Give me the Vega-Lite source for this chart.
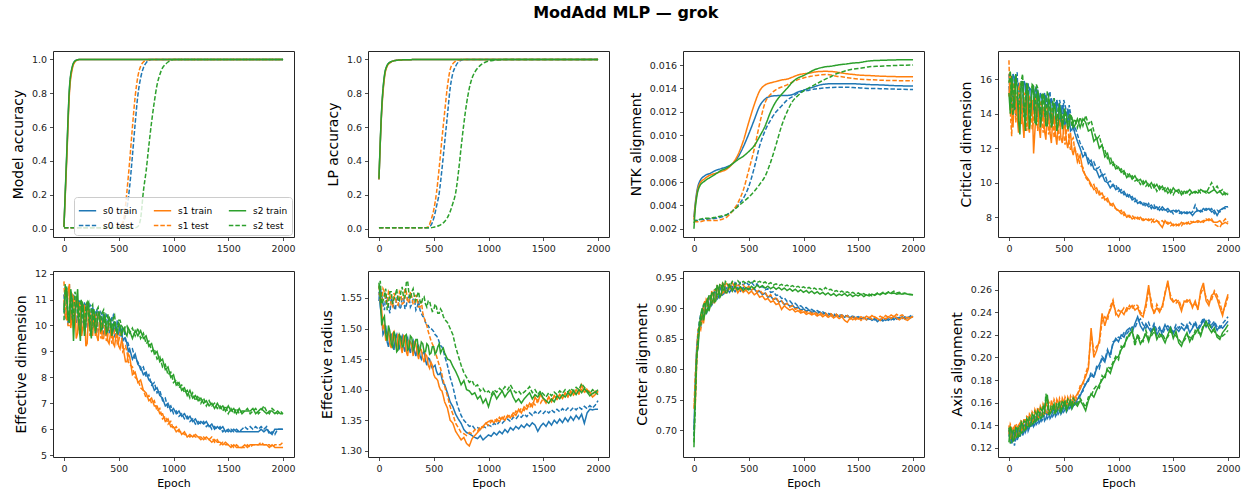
{
"$schema": "https://vega.github.io/schema/vega-lite/v6.json",
"background": "white",
"padding": {"left": 10, "top": 4, "right": 3, "bottom": 5},
"title": {"text": "ModAdd MLP — grok", "font": "DejaVu Sans", "fontSize": 16, "fontWeight": "bold", "color": "#000", "anchor": "middle", "offset": 30},
"config": {
  "font": "DejaVu Sans",
  "view": {"stroke": "#262626", "strokeWidth": 1},
  "axis": {"labelFont": "DejaVu Sans", "labelFontSize": 9.5, "labelColor": "#222", "titleFont": "DejaVu Sans", "titleFontWeight": "normal", "titleColor": "#000", "tickColor": "#222", "tickSize": 3.5, "tickWidth": 0.8, "labelPadding": 3, "grid": false, "domain": false, "labelFlush": false, "labelOverlap": false},
  "axisY": {"titleFontSize": 14, "titlePadding": 6},
  "axisX": {"titleFontSize": 11, "titlePadding": 4},
  "line": {"strokeWidth": 1.5, "clip": true}
},
"columns": 4,
"spacing": {"row": 34, "column": 74},
"bounds": "flush",
"resolve": {"scale": {"color": "independent", "strokeDash": "independent"}},
"datasets": {
"names": [{"k":"a","s":"s0 train"},{"k":"b","s":"s0 test"},{"k":"c","s":"s1 train"},{"k":"d","s":"s1 test"},{"k":"f","s":"s2 train"},{"k":"g","s":"s2 test"}],
"acc": [
{"e":0,"a":0.01,"b":0.005,"c":0.01,"d":0.005,"f":0.01,"g":0.005},
{"e":25,"a":0.42,"b":0.005,"c":0.4,"d":0.005,"f":0.44,"g":0.005},
{"e":50,"a":0.82,"b":0.005,"c":0.8,"d":0.005,"f":0.83,"g":0.005},
{"e":75,"a":0.95,"b":0.005,"c":0.94,"d":0.005,"f":0.955,"g":0.005},
{"e":100,"a":0.99,"b":0.005,"c":0.985,"d":0.005,"f":0.99,"g":0.005},
{"e":125,"a":0.998,"b":0.005,"c":0.997,"d":0.005,"f":0.998,"g":0.005},
{"e":150,"a":1,"b":0.005,"c":1,"d":0.005,"f":1,"g":0.005},
{"e":200,"a":1,"b":0.005,"c":1,"d":0.005,"f":1,"g":0.005},
{"e":300,"a":1,"b":0.005,"c":1,"d":0.005,"f":1,"g":0.005},
{"e":400,"a":1,"b":0.005,"c":1,"d":0.005,"f":1,"g":0.005},
{"e":450,"a":1,"b":0.005,"c":1,"d":0.005,"f":1,"g":0.005},
{"e":475,"a":1,"b":0.005,"c":1,"d":0.005,"f":1,"g":0.005},
{"e":500,"a":1,"b":0.005,"c":1,"d":0.008,"f":1,"g":0.005},
{"e":525,"a":1,"b":0.02,"c":1,"d":0.02,"f":1,"g":0.005},
{"e":550,"a":1,"b":0.05,"c":1,"d":0.07,"f":1,"g":0.005},
{"e":575,"a":1,"b":0.12,"c":1,"d":0.22,"f":1,"g":0.005},
{"e":600,"a":1,"b":0.25,"c":1,"d":0.4,"f":1,"g":0.005},
{"e":625,"a":1,"b":0.43,"c":1,"d":0.6,"f":1,"g":0.005},
{"e":650,"a":1,"b":0.62,"c":1,"d":0.78,"f":1,"g":0.005},
{"e":675,"a":1,"b":0.79,"c":1,"d":0.9,"f":1,"g":0.012},
{"e":700,"a":1,"b":0.89,"c":1,"d":0.96,"f":1,"g":0.06},
{"e":725,"a":1,"b":0.95,"c":1,"d":0.985,"f":1,"g":0.22},
{"e":750,"a":1,"b":0.98,"c":1,"d":0.995,"f":1,"g":0.34},
{"e":775,"a":1,"b":0.995,"c":1,"d":1,"f":1,"g":0.49},
{"e":800,"a":1,"b":1,"c":1,"d":1,"f":1,"g":0.63},
{"e":825,"a":1,"b":1,"c":1,"d":1,"f":1,"g":0.75},
{"e":850,"a":1,"b":1,"c":1,"d":1,"f":1,"g":0.85},
{"e":875,"a":1,"b":1,"c":1,"d":1,"f":1,"g":0.91},
{"e":900,"a":1,"b":1,"c":1,"d":1,"f":1,"g":0.95},
{"e":925,"a":1,"b":1,"c":1,"d":1,"f":1,"g":0.97},
{"e":950,"a":1,"b":1,"c":1,"d":1,"f":1,"g":0.985},
{"e":975,"a":1,"b":1,"c":1,"d":1,"f":1,"g":0.995},
{"e":1000,"a":1,"b":1,"c":1,"d":1,"f":1,"g":1},
{"e":1100,"a":1,"b":1,"c":1,"d":1,"f":1,"g":1},
{"e":1500,"a":1,"b":1,"c":1,"d":1,"f":1,"g":1},
{"e":2000,"a":1,"b":1,"c":1,"d":1,"f":1,"g":1}
],
"lp": [
{"e":0,"a":0.29,"b":0.005,"c":0.29,"d":0.005,"f":0.295,"g":0.005},
{"e":25,"a":0.7,"b":0.005,"c":0.69,"d":0.005,"f":0.71,"g":0.005},
{"e":50,"a":0.9,"b":0.005,"c":0.89,"d":0.005,"f":0.905,"g":0.005},
{"e":75,"a":0.965,"b":0.005,"c":0.96,"d":0.005,"f":0.965,"g":0.005},
{"e":100,"a":0.983,"b":0.005,"c":0.98,"d":0.005,"f":0.983,"g":0.005},
{"e":125,"a":0.99,"b":0.005,"c":0.99,"d":0.005,"f":0.99,"g":0.005},
{"e":150,"a":0.994,"b":0.005,"c":0.994,"d":0.005,"f":0.994,"g":0.005},
{"e":200,"a":0.997,"b":0.005,"c":0.997,"d":0.005,"f":0.997,"g":0.005},
{"e":300,"a":0.999,"b":0.005,"c":0.999,"d":0.005,"f":0.999,"g":0.005},
{"e":400,"a":1,"b":0.005,"c":1,"d":0.005,"f":1,"g":0.005},
{"e":425,"a":1,"b":0.005,"c":1,"d":0.005,"f":1,"g":0.005},
{"e":450,"a":1,"b":0.005,"c":1,"d":0.01,"f":1,"g":0.005},
{"e":475,"a":1,"b":0.02,"c":1,"d":0.05,"f":1,"g":0.005},
{"e":500,"a":1,"b":0.06,"c":1,"d":0.11,"f":1,"g":0.008},
{"e":525,"a":1,"b":0.13,"c":1,"d":0.21,"f":1,"g":0.012},
{"e":550,"a":1,"b":0.21,"c":1,"d":0.36,"f":1,"g":0.018},
{"e":575,"a":1,"b":0.35,"c":1,"d":0.53,"f":1,"g":0.028},
{"e":600,"a":1,"b":0.51,"c":1,"d":0.69,"f":1,"g":0.042},
{"e":625,"a":1,"b":0.67,"c":1,"d":0.84,"f":1,"g":0.065},
{"e":650,"a":1,"b":0.83,"c":1,"d":0.94,"f":1,"g":0.1},
{"e":675,"a":1,"b":0.92,"c":1,"d":0.975,"f":1,"g":0.15},
{"e":700,"a":1,"b":0.96,"c":1,"d":0.99,"f":1,"g":0.21},
{"e":725,"a":1,"b":0.985,"c":1,"d":0.997,"f":1,"g":0.33},
{"e":750,"a":1,"b":0.995,"c":1,"d":1,"f":1,"g":0.48},
{"e":775,"a":1,"b":1,"c":1,"d":1,"f":1,"g":0.62},
{"e":800,"a":1,"b":1,"c":1,"d":1,"f":1,"g":0.74},
{"e":825,"a":1,"b":1,"c":1,"d":1,"f":1,"g":0.83},
{"e":850,"a":1,"b":1,"c":1,"d":1,"f":1,"g":0.89},
{"e":875,"a":1,"b":1,"c":1,"d":1,"f":1,"g":0.925},
{"e":900,"a":1,"b":1,"c":1,"d":1,"f":1,"g":0.948},
{"e":925,"a":1,"b":1,"c":1,"d":1,"f":1,"g":0.965},
{"e":950,"a":1,"b":1,"c":1,"d":1,"f":1,"g":0.977},
{"e":975,"a":1,"b":1,"c":1,"d":1,"f":1,"g":0.985},
{"e":1000,"a":1,"b":1,"c":1,"d":1,"f":1,"g":0.99},
{"e":1050,"a":1,"b":1,"c":1,"d":1,"f":1,"g":0.995},
{"e":1100,"a":1,"b":1,"c":1,"d":1,"f":1,"g":0.998},
{"e":1150,"a":1,"b":1,"c":1,"d":1,"f":1,"g":1},
{"e":1500,"a":1,"b":1,"c":1,"d":1,"f":1,"g":1},
{"e":2000,"a":1,"b":1,"c":1,"d":1,"f":1,"g":1}
],
"ntk": [
{"e":0,"a":0.003,"b":0.0028,"c":0.0028,"d":0.0026,"f":0.002,"g":0.0025},
{"e":10,"a":0.004,"b":0.0027,"c":0.0038,"d":0.0026,"f":0.0035,"g":0.0027},
{"e":25,"a":0.0051,"b":0.0027,"c":0.0049,"d":0.0026,"f":0.0047,"g":0.0027},
{"e":50,"a":0.006,"b":0.0028,"c":0.0058,"d":0.0026,"f":0.0056,"g":0.0028},
{"e":100,"a":0.00655,"b":0.0028,"c":0.0063,"d":0.0027,"f":0.0061,"g":0.0029},
{"e":150,"a":0.00675,"b":0.00285,"c":0.0066,"d":0.0027,"f":0.0064,"g":0.0029},
{"e":200,"a":0.007,"b":0.0029,"c":0.00675,"d":0.0027,"f":0.0067,"g":0.003},
{"e":250,"a":0.00715,"b":0.003,"c":0.0069,"d":0.0028,"f":0.007,"g":0.0031},
{"e":300,"a":0.0073,"b":0.0032,"c":0.0071,"d":0.003,"f":0.0072,"g":0.0032},
{"e":350,"a":0.00755,"b":0.0035,"c":0.00755,"d":0.0035,"f":0.00755,"g":0.0035},
{"e":400,"a":0.0081,"b":0.004,"c":0.0083,"d":0.0042,"f":0.0079,"g":0.0039},
{"e":450,"a":0.009,"b":0.0046,"c":0.0095,"d":0.0053,"f":0.0082,"g":0.0043},
{"e":500,"a":0.0101,"b":0.0056,"c":0.0111,"d":0.007,"f":0.0086,"g":0.0047},
{"e":550,"a":0.0113,"b":0.0072,"c":0.0126,"d":0.0088,"f":0.0091,"g":0.0052},
{"e":600,"a":0.0125,"b":0.0091,"c":0.0138,"d":0.011,"f":0.0099,"g":0.0058},
{"e":650,"a":0.0131,"b":0.0104,"c":0.0143,"d":0.0128,"f":0.0108,"g":0.0065},
{"e":700,"a":0.01333,"b":0.0113,"c":0.01448,"d":0.0135,"f":0.012,"g":0.0077},
{"e":750,"a":0.01338,"b":0.012,"c":0.0146,"d":0.0139,"f":0.0129,"g":0.0092},
{"e":800,"a":0.0134,"b":0.0125,"c":0.01472,"d":0.01412,"f":0.0135,"g":0.0108},
{"e":850,"a":0.0134,"b":0.013,"c":0.0148,"d":0.0143,"f":0.014,"g":0.012},
{"e":900,"a":0.01348,"b":0.0133,"c":0.01497,"d":0.01455,"f":0.01455,"g":0.0129},
{"e":950,"a":0.0137,"b":0.0136,"c":0.01515,"d":0.01475,"f":0.0149,"g":0.0134},
{"e":1000,"a":0.01385,"b":0.01375,"c":0.01525,"d":0.0149,"f":0.0151,"g":0.0138},
{"e":1050,"a":0.014,"b":0.01385,"c":0.0153,"d":0.015,"f":0.01535,"g":0.01405},
{"e":1100,"a":0.01415,"b":0.01395,"c":0.0154,"d":0.0151,"f":0.0156,"g":0.0143},
{"e":1150,"a":0.0143,"b":0.014,"c":0.01545,"d":0.01515,"f":0.01575,"g":0.01455},
{"e":1200,"a":0.01437,"b":0.01405,"c":0.01546,"d":0.0152,"f":0.01585,"g":0.0148},
{"e":1250,"a":0.0144,"b":0.01408,"c":0.01545,"d":0.01515,"f":0.0159,"g":0.015},
{"e":1300,"a":0.0144,"b":0.0141,"c":0.0154,"d":0.01505,"f":0.01598,"g":0.01525},
{"e":1350,"a":0.0144,"b":0.0141,"c":0.01532,"d":0.015,"f":0.01605,"g":0.0154},
{"e":1400,"a":0.0144,"b":0.0141,"c":0.01525,"d":0.01492,"f":0.0161,"g":0.01555},
{"e":1450,"a":0.0144,"b":0.01408,"c":0.0152,"d":0.01485,"f":0.01617,"g":0.01565},
{"e":1500,"a":0.01438,"b":0.01405,"c":0.01515,"d":0.0148,"f":0.0162,"g":0.0157},
{"e":1600,"a":0.01433,"b":0.014,"c":0.0151,"d":0.01475,"f":0.01635,"g":0.01585},
{"e":1700,"a":0.0143,"b":0.01398,"c":0.01505,"d":0.0147,"f":0.0164,"g":0.0159},
{"e":1800,"a":0.01425,"b":0.01395,"c":0.01502,"d":0.01468,"f":0.01643,"g":0.01595},
{"e":1900,"a":0.01422,"b":0.01393,"c":0.015,"d":0.01466,"f":0.01645,"g":0.01598},
{"e":2000,"a":0.0142,"b":0.0139,"c":0.015,"d":0.01465,"f":0.01645,"g":0.016}
],
"cd": [
{"e":0,"a":15.6,"b":16.3,"c":15.0,"d":17.1,"f":15.2,"g":15.8},
{"e":25,"a":14.8,"b":15.5,"c":14.1,"d":12.7,"f":16.2,"g":14.6},
{"e":50,"a":16.1,"b":15.0,"c":15.6,"d":15.3,"f":14.2,"g":16.0},
{"e":75,"a":14.6,"b":16.4,"c":13.9,"d":14.4,"f":15.5,"g":14.9},
{"e":100,"a":15.3,"b":14.7,"c":15.2,"d":15.8,"f":12.8,"g":15.2},
{"e":125,"a":14.2,"b":15.6,"c":13.6,"d":14.0,"f":15.9,"g":16.3},
{"e":150,"a":15.7,"b":14.5,"c":14.8,"d":15.1,"f":13.0,"g":14.7},
{"e":175,"a":14.9,"b":15.8,"c":13.3,"d":13.8,"f":15.0,"g":15.5},
{"e":200,"a":15.4,"b":14.9,"c":14.6,"d":14.9,"f":14.1,"g":14.6},
{"e":225,"a":14.3,"b":15.5,"c":11.7,"d":13.6,"f":15.6,"g":15.2},
{"e":250,"a":15.6,"b":14.2,"c":14.5,"d":14.6,"f":13.4,"g":15.7},
{"e":275,"a":14.5,"b":15.0,"c":13.2,"d":13.9,"f":14.9,"g":14.3},
{"e":300,"a":14.9,"b":14.3,"c":14.2,"d":14.5,"f":14.0,"g":15.1},
{"e":325,"a":13.9,"b":15.2,"c":13.0,"d":13.4,"f":15.0,"g":14.0},
{"e":350,"a":14.7,"b":14.0,"c":14.1,"d":14.3,"f":13.3,"g":15.3},
{"e":375,"a":14.0,"b":15.3,"c":12.9,"d":13.1,"f":14.6,"g":14.2},
{"e":400,"a":14.6,"b":13.8,"c":13.7,"d":14.0,"f":13.5,"g":14.7},
{"e":425,"a":13.8,"b":14.6,"c":12.8,"d":13.4,"f":14.2,"g":14.0},
{"e":450,"a":14.4,"b":13.7,"c":13.5,"d":13.0,"f":13.4,"g":14.4},
{"e":475,"a":13.9,"b":14.4,"c":12.6,"d":13.5,"f":14.0,"g":13.6},
{"e":500,"a":14.2,"b":14.8,"c":13.2,"d":12.8,"f":13.6,"g":14.1},
{"e":525,"a":13.6,"b":14.1,"c":12.4,"d":13.0,"f":13.9,"g":13.4},
{"e":550,"a":13.8,"b":14.5,"c":12.6,"d":12.3,"f":13.3,"g":13.9},
{"e":575,"a":13.1,"b":13.6,"c":11.9,"d":12.5,"f":13.8,"g":13.3},
{"e":600,"a":12.9,"b":13.3,"c":12.1,"d":11.9,"f":13.3,"g":13.7},
{"e":625,"a":12.4,"b":12.8,"c":11.2,"d":11.7,"f":13.7,"g":13.2},
{"e":650,"a":12.0,"b":12.3,"c":11.6,"d":11.0,"f":13.2,"g":13.8},
{"e":675,"a":11.5,"b":12.0,"c":10.7,"d":10.9,"f":13.7,"g":13.3},
{"e":700,"a":11.7,"b":11.6,"c":10.4,"d":10.3,"f":13.5,"g":13.9},
{"e":725,"a":11.1,"b":11.4,"c":10.2,"d":10.1,"f":13.0,"g":13.4},
{"e":750,"a":11.3,"b":11.0,"c":9.9,"d":9.8,"f":13.1,"g":13.6},
{"e":775,"a":10.8,"b":11.2,"c":9.6,"d":9.9,"f":12.4,"g":13.0},
{"e":800,"a":10.7,"b":10.8,"c":9.7,"d":9.4,"f":12.6,"g":12.5},
{"e":825,"a":10.3,"b":10.9,"c":9.3,"d":9.5,"f":12.0,"g":12.7},
{"e":850,"a":10.5,"b":10.4,"c":9.4,"d":9.1,"f":12.2,"g":12.1},
{"e":875,"a":10.1,"b":10.5,"c":9.0,"d":9.2,"f":11.5,"g":11.9},
{"e":900,"a":10.0,"b":10.0,"c":9.1,"d":8.9,"f":11.7,"g":11.4},
{"e":925,"a":9.7,"b":10.1,"c":8.7,"d":8.8,"f":11.1,"g":11.5},
{"e":950,"a":9.9,"b":9.8,"c":8.8,"d":8.6,"f":11.2,"g":11.0},
{"e":975,"a":9.6,"b":9.9,"c":8.5,"d":8.5,"f":10.8,"g":11.1},
{"e":1000,"a":9.7,"b":9.5,"c":8.4,"d":8.3,"f":10.9,"g":10.7},
{"e":1025,"a":9.4,"b":9.6,"c":8.2,"d":8.4,"f":10.6,"g":10.8},
{"e":1050,"a":9.5,"b":9.3,"c":8.3,"d":8.1,"f":10.7,"g":10.5},
{"e":1075,"a":9.2,"b":9.4,"c":8.0,"d":8.2,"f":10.3,"g":10.6},
{"e":1100,"a":9.3,"b":9.1,"c":8.1,"d":8.0,"f":10.5,"g":10.3},
{"e":1125,"a":9.0,"b":9.2,"c":7.9,"d":8.1,"f":10.2,"g":10.4},
{"e":1150,"a":9.1,"b":8.9,"c":8.0,"d":7.9,"f":10.4,"g":10.1},
{"e":1175,"a":8.8,"b":9.0,"c":7.9,"d":8.0,"f":10.1,"g":10.2},
{"e":1200,"a":8.9,"b":8.8,"c":8.0,"d":7.8,"f":10.2,"g":9.9},
{"e":1225,"a":8.7,"b":8.9,"c":7.8,"d":7.9,"f":9.9,"g":10.1},
{"e":1250,"a":8.8,"b":8.6,"c":7.9,"d":7.8,"f":10.1,"g":9.8},
{"e":1275,"a":8.6,"b":8.8,"c":7.8,"d":7.9,"f":9.8,"g":10.0},
{"e":1300,"a":8.7,"b":8.5,"c":7.9,"d":7.7,"f":10.0,"g":9.7},
{"e":1325,"a":8.5,"b":8.7,"c":7.7,"d":7.9,"f":9.7,"g":9.9},
{"e":1350,"a":8.6,"b":8.4,"c":7.8,"d":7.8,"f":9.9,"g":9.5},
{"e":1375,"a":8.4,"b":8.6,"c":7.6,"d":7.7,"f":9.6,"g":9.8},
{"e":1400,"a":8.6,"b":8.4,"c":7.4,"d":7.8,"f":9.8,"g":9.6},
{"e":1425,"a":8.4,"b":8.5,"c":7.8,"d":7.6,"f":9.5,"g":9.7},
{"e":1450,"a":8.5,"b":8.3,"c":7.6,"d":7.7,"f":9.7,"g":9.4},
{"e":1475,"a":8.3,"b":8.4,"c":7.7,"d":7.5,"f":9.4,"g":9.6},
{"e":1500,"a":8.4,"b":8.2,"c":7.5,"d":7.6,"f":9.7,"g":9.3},
{"e":1525,"a":8.3,"b":8.4,"c":7.6,"d":7.5,"f":9.5,"g":9.6},
{"e":1550,"a":8.4,"b":8.2,"c":7.5,"d":7.6,"f":9.6,"g":9.4},
{"e":1575,"a":8.2,"b":8.3,"c":7.7,"d":7.5,"f":9.3,"g":9.5},
{"e":1600,"a":8.3,"b":8.2,"c":7.6,"d":7.7,"f":9.5,"g":9.3},
{"e":1625,"a":8.2,"b":8.3,"c":7.7,"d":7.6,"f":9.4,"g":9.5},
{"e":1650,"a":8.3,"b":8.2,"c":7.6,"d":7.8,"f":9.6,"g":9.3},
{"e":1675,"a":8.1,"b":8.3,"c":7.7,"d":7.7,"f":9.4,"g":9.5},
{"e":1700,"a":8.3,"b":8.7,"c":7.7,"d":7.8,"f":9.5,"g":9.4},
{"e":1725,"a":8.4,"b":8.3,"c":7.8,"d":7.7,"f":9.4,"g":9.6},
{"e":1750,"a":8.3,"b":8.4,"c":7.7,"d":7.8,"f":9.6,"g":9.4},
{"e":1775,"a":8.5,"b":8.3,"c":7.8,"d":7.7,"f":9.5,"g":9.5},
{"e":1800,"a":8.4,"b":8.5,"c":7.8,"d":7.9,"f":9.5,"g":9.4},
{"e":1825,"a":8.5,"b":8.4,"c":7.9,"d":7.8,"f":9.4,"g":9.7},
{"e":1850,"a":8.3,"b":8.5,"c":7.8,"d":7.9,"f":9.5,"g":10.0},
{"e":1875,"a":8.4,"b":8.2,"c":7.7,"d":7.6,"f":9.6,"g":9.6},
{"e":1900,"a":8.1,"b":8.4,"c":7.7,"d":7.5,"f":9.4,"g":9.8},
{"e":1925,"a":8.4,"b":8.3,"c":7.8,"d":7.4,"f":9.5,"g":9.5},
{"e":1950,"a":8.5,"b":8.5,"c":7.6,"d":7.7,"f":9.3,"g":9.6},
{"e":1975,"a":8.6,"b":8.5,"c":7.7,"d":7.9,"f":9.4,"g":9.3},
{"e":2000,"a":8.6,"b":8.6,"c":7.6,"d":7.7,"f":9.3,"g":9.4},
{"e":12,"a":14.9,"b":15.0,"c":16.4,"d":14.2,"f":14.0,"g":16.5},
{"e":37,"a":16.3,"b":14.2,"c":13.2,"d":15.8,"f":15.1,"g":13.9},
{"e":62,"a":13.9,"b":16.0,"c":15.0,"d":13.5,"f":16.3,"g":15.2},
{"e":87,"a":15.8,"b":14.1,"c":12.9,"d":15.4,"f":13.6,"g":14.2},
{"e":112,"a":14.0,"b":15.9,"c":14.9,"d":13.4,"f":15.6,"g":15.9},
{"e":137,"a":15.9,"b":14.4,"c":12.6,"d":15.2,"f":14.4,"g":13.8},
{"e":162,"a":13.9,"b":15.7,"c":15.1,"d":13.0,"f":15.8,"g":15.8},
{"e":187,"a":15.5,"b":14.0,"c":12.9,"d":15.0,"f":13.1,"g":14.1},
{"e":212,"a":14.0,"b":15.4,"c":14.8,"d":13.1,"f":15.7,"g":15.6},
{"e":237,"a":15.3,"b":14.0,"c":13.0,"d":15.0,"f":13.5,"g":14.0},
{"e":262,"a":13.8,"b":15.4,"c":14.4,"d":13.0,"f":15.3,"g":15.5},
{"e":287,"a":15.2,"b":13.9,"c":12.6,"d":14.7,"f":13.2,"g":14.0},
{"e":312,"a":13.7,"b":15.0,"c":14.3,"d":12.9,"f":15.1,"g":15.2},
{"e":337,"a":15.1,"b":13.6,"c":12.5,"d":14.5,"f":13.3,"g":13.8},
{"e":362,"a":13.6,"b":15.1,"c":13.9,"d":12.8,"f":14.9,"g":15.0},
{"e":387,"a":14.9,"b":13.5,"c":12.3,"d":14.3,"f":13.2,"g":13.7},
{"e":412,"a":13.4,"b":14.9,"c":13.8,"d":12.6,"f":14.6,"g":14.9},
{"e":437,"a":14.8,"b":13.4,"c":12.2,"d":14.0,"f":13.0,"g":13.6},
{"e":462,"a":13.3,"b":14.8,"c":13.6,"d":12.4,"f":14.5,"g":14.6},
{"e":487,"a":14.5,"b":13.3,"c":12.3,"d":13.7,"f":13.1,"g":13.5},
{"e":512,"a":13.2,"b":14.5,"c":13.3,"d":12.2,"f":14.2,"g":14.3},
{"e":537,"a":14.3,"b":13.3,"c":12.0,"d":13.4,"f":13.1,"g":13.4},
{"e":562,"a":13.0,"b":14.0,"c":12.9,"d":11.9,"f":13.9,"g":14.0},
{"e":587,"a":13.3,"b":13.1,"c":11.6,"d":12.6,"f":13.2,"g":13.5}
],
"ed": [
{"e":0,"a":10.5,"b":11.2,"c":11.0,"d":11.7,"f":10.6,"g":10.2},
{"e":25,"a":11.3,"b":10.4,"c":10.2,"d":10.8,"f":11.5,"g":11.1},
{"e":50,"a":10.2,"b":11.5,"c":11.6,"d":10.0,"f":10.1,"g":10.7},
{"e":75,"a":10.9,"b":10.6,"c":10.3,"d":11.2,"f":11.0,"g":10.3},
{"e":100,"a":10.3,"b":11.1,"c":11.0,"d":10.4,"f":10.5,"g":11.3},
{"e":125,"a":10.8,"b":10.3,"c":9.7,"d":10.9,"f":11.4,"g":10.4},
{"e":150,"a":10.1,"b":10.9,"c":10.7,"d":10.2,"f":9.4,"g":10.9},
{"e":175,"a":10.7,"b":10.2,"c":10.0,"d":10.7,"f":10.8,"g":10.2},
{"e":200,"a":10.2,"b":10.8,"c":9.2,"d":10.1,"f":10.1,"g":10.8},
{"e":225,"a":10.6,"b":10.1,"c":10.6,"d":10.5,"f":10.9,"g":10.3},
{"e":250,"a":10.0,"b":10.7,"c":9.8,"d":9.9,"f":9.5,"g":10.7},
{"e":275,"a":10.5,"b":10.0,"c":10.4,"d":10.4,"f":10.6,"g":10.0},
{"e":300,"a":10.1,"b":10.6,"c":9.6,"d":9.8,"f":10.0,"g":10.6},
{"e":325,"a":10.4,"b":9.9,"c":10.1,"d":10.3,"f":10.5,"g":10.2},
{"e":350,"a":9.9,"b":10.4,"c":9.5,"d":9.7,"f":9.9,"g":10.5},
{"e":375,"a":10.3,"b":9.8,"c":9.9,"d":10.1,"f":10.4,"g":10.0},
{"e":400,"a":9.8,"b":10.3,"c":9.4,"d":9.6,"f":9.8,"g":10.4},
{"e":425,"a":10.2,"b":9.9,"c":9.7,"d":9.9,"f":10.2,"g":9.9},
{"e":450,"a":9.8,"b":10.4,"c":9.3,"d":9.5,"f":10.0,"g":10.3},
{"e":475,"a":10.0,"b":9.7,"c":9.6,"d":9.7,"f":9.8,"g":9.9},
{"e":500,"a":9.7,"b":10.0,"c":9.2,"d":9.4,"f":10.1,"g":10.2},
{"e":525,"a":9.8,"b":9.6,"c":9.4,"d":9.6,"f":9.6,"g":10.0},
{"e":550,"a":9.5,"b":9.8,"c":8.9,"d":9.1,"f":9.9,"g":9.8},
{"e":575,"a":9.3,"b":9.4,"c":8.6,"d":9.0,"f":9.6,"g":10.0},
{"e":600,"a":9.1,"b":9.0,"c":8.8,"d":8.5,"f":9.8,"g":9.7},
{"e":625,"a":8.7,"b":9.1,"c":8.1,"d":8.4,"f":9.5,"g":9.9},
{"e":650,"a":8.9,"b":8.7,"c":8.2,"d":8.0,"f":9.8,"g":9.6},
{"e":675,"a":8.5,"b":8.6,"c":7.8,"d":7.9,"f":9.6,"g":9.9},
{"e":700,"a":8.4,"b":8.3,"c":7.9,"d":7.6,"f":9.8,"g":9.5},
{"e":725,"a":8.1,"b":8.4,"c":7.5,"d":7.5,"f":9.5,"g":9.7},
{"e":750,"a":8.2,"b":8.0,"c":7.4,"d":7.2,"f":9.6,"g":9.3},
{"e":775,"a":7.9,"b":8.1,"c":7.1,"d":7.3,"f":9.2,"g":9.4},
{"e":800,"a":7.8,"b":7.7,"c":7.2,"d":7.0,"f":9.3,"g":9.0},
{"e":825,"a":7.5,"b":7.8,"c":6.9,"d":7.1,"f":8.9,"g":9.1},
{"e":850,"a":7.6,"b":7.4,"c":6.9,"d":6.7,"f":9.0,"g":8.7},
{"e":875,"a":7.3,"b":7.5,"c":6.6,"d":6.8,"f":8.6,"g":8.8},
{"e":900,"a":7.2,"b":7.1,"c":6.6,"d":6.4,"f":8.7,"g":8.4},
{"e":925,"a":6.9,"b":7.2,"c":6.3,"d":6.5,"f":8.3,"g":8.5},
{"e":950,"a":7.0,"b":6.8,"c":6.4,"d":6.2,"f":8.4,"g":8.1},
{"e":975,"a":6.7,"b":6.9,"c":6.1,"d":6.3,"f":8.0,"g":8.2},
{"e":1000,"a":6.8,"b":6.6,"c":6.1,"d":6.0,"f":8.1,"g":7.8},
{"e":1025,"a":6.6,"b":6.7,"c":5.9,"d":6.1,"f":7.7,"g":7.9},
{"e":1050,"a":6.7,"b":6.5,"c":6.0,"d":5.9,"f":7.8,"g":7.6},
{"e":1075,"a":6.5,"b":6.6,"c":5.8,"d":5.9,"f":7.5,"g":7.7},
{"e":1100,"a":6.6,"b":6.4,"c":5.9,"d":5.8,"f":7.6,"g":7.4},
{"e":1125,"a":6.4,"b":6.5,"c":5.7,"d":5.8,"f":7.3,"g":7.5},
{"e":1150,"a":6.5,"b":6.3,"c":5.8,"d":5.7,"f":7.5,"g":7.2},
{"e":1175,"a":6.3,"b":6.4,"c":5.7,"d":5.8,"f":7.2,"g":7.4},
{"e":1200,"a":6.4,"b":6.2,"c":5.8,"d":5.7,"f":7.3,"g":7.1},
{"e":1225,"a":6.2,"b":6.3,"c":5.7,"d":5.7,"f":7.1,"g":7.3},
{"e":1250,"a":6.3,"b":6.2,"c":5.7,"d":5.6,"f":7.2,"g":7.0},
{"e":1275,"a":6.2,"b":6.3,"c":5.6,"d":5.7,"f":7.0,"g":7.2},
{"e":1300,"a":6.3,"b":6.1,"c":5.7,"d":5.6,"f":7.1,"g":6.9},
{"e":1325,"a":6.1,"b":6.2,"c":5.6,"d":5.6,"f":6.9,"g":7.1},
{"e":1350,"a":6.2,"b":6.0,"c":5.5,"d":5.7,"f":7.0,"g":6.9},
{"e":1375,"a":6.0,"b":6.1,"c":5.6,"d":5.5,"f":6.8,"g":7.0},
{"e":1400,"a":6.1,"b":6.0,"c":5.5,"d":5.6,"f":7.0,"g":6.8},
{"e":1425,"a":6.0,"b":6.1,"c":5.5,"d":5.4,"f":6.8,"g":6.9},
{"e":1450,"a":6.1,"b":5.9,"c":5.4,"d":5.5,"f":6.9,"g":6.7},
{"e":1475,"a":5.9,"b":6.0,"c":5.5,"d":5.4,"f":6.7,"g":6.9},
{"e":1500,"a":6.0,"b":5.9,"c":5.4,"d":5.4,"f":6.9,"g":6.6},
{"e":1525,"a":5.9,"b":6.0,"c":5.3,"d":5.4,"f":6.7,"g":6.8},
{"e":1550,"a":6.0,"b":5.9,"c":5.4,"d":5.3,"f":6.8,"g":6.6},
{"e":1575,"a":5.9,"b":6.0,"c":5.3,"d":5.4,"f":6.6,"g":6.8},
{"e":1600,"a":5.9,"b":5.9,"c":5.3,"d":5.3,"f":6.8,"g":6.6},
{"e":1625,"a":5.9,"b":6.0,"c":5.3,"d":5.3,"f":6.6,"g":6.7},
{"e":1650,"a":5.9,"b":6.1,"c":5.4,"d":5.3,"f":6.7,"g":6.7},
{"e":1675,"a":5.9,"b":6.0,"c":5.3,"d":5.4,"f":6.7,"g":6.8},
{"e":1700,"a":5.9,"b":6.1,"c":5.4,"d":5.3,"f":6.7,"g":6.6},
{"e":1725,"a":5.9,"b":6.0,"c":5.4,"d":5.4,"f":6.8,"g":6.7},
{"e":1750,"a":5.9,"b":6.1,"c":5.4,"d":5.4,"f":6.6,"g":6.8},
{"e":1775,"a":5.9,"b":6.0,"c":5.4,"d":5.4,"f":6.7,"g":6.6},
{"e":1800,"a":6.0,"b":6.1,"c":5.4,"d":5.5,"f":6.8,"g":6.7},
{"e":1825,"a":5.9,"b":6.0,"c":5.4,"d":5.4,"f":6.7,"g":6.9},
{"e":1850,"a":6.0,"b":6.1,"c":5.4,"d":5.4,"f":6.6,"g":6.7},
{"e":1875,"a":5.9,"b":5.8,"c":5.3,"d":5.4,"f":6.7,"g":6.6},
{"e":1900,"a":5.8,"b":5.9,"c":5.4,"d":5.3,"f":6.7,"g":6.8},
{"e":1925,"a":6.0,"b":5.8,"c":5.3,"d":5.4,"f":6.6,"g":6.7},
{"e":1950,"a":6.0,"b":6.0,"c":5.3,"d":5.4,"f":6.7,"g":6.6},
{"e":1975,"a":6.0,"b":6.0,"c":5.3,"d":5.4,"f":6.6,"g":6.7},
{"e":2000,"a":6.0,"b":6.0,"c":5.3,"d":5.5,"f":6.6,"g":6.6},
{"e":12,"a":11.4,"b":10.3,"c":10.4,"d":10.6,"f":11.2,"g":11.6},
{"e":37,"a":10.1,"b":11.4,"c":11.3,"d":10.0,"f":10.3,"g":10.2},
{"e":62,"a":11.2,"b":10.2,"c":9.9,"d":11.3,"f":11.4,"g":11.0},
{"e":87,"a":10.0,"b":11.2,"c":11.1,"d":9.9,"f":9.4,"g":10.4},
{"e":112,"a":11.0,"b":10.1,"c":9.5,"d":11.0,"f":10.9,"g":11.1},
{"e":137,"a":9.9,"b":11.0,"c":10.9,"d":9.8,"f":10.0,"g":10.1},
{"e":162,"a":10.9,"b":10.1,"c":9.6,"d":10.9,"f":10.9,"g":11.0},
{"e":187,"a":9.8,"b":10.9,"c":10.8,"d":9.8,"f":9.6,"g":10.0},
{"e":212,"a":10.8,"b":9.9,"c":9.3,"d":10.8,"f":10.8,"g":10.9},
{"e":237,"a":9.8,"b":10.8,"c":10.5,"d":9.6,"f":9.9,"g":10.0},
{"e":262,"a":10.7,"b":9.9,"c":9.6,"d":10.6,"f":10.6,"g":10.8},
{"e":287,"a":9.7,"b":10.6,"c":10.4,"d":9.6,"f":9.7,"g":10.1},
{"e":312,"a":10.5,"b":9.8,"c":9.4,"d":10.4,"f":10.4,"g":10.7},
{"e":337,"a":9.7,"b":10.5,"c":10.2,"d":9.5,"f":9.8,"g":10.0},
{"e":362,"a":10.4,"b":9.7,"c":9.5,"d":10.2,"f":10.3,"g":10.6},
{"e":387,"a":9.6,"b":10.4,"c":10.0,"d":9.4,"f":9.7,"g":9.9},
{"e":412,"a":10.3,"b":9.7,"c":9.3,"d":10.1,"f":10.3,"g":10.4},
{"e":437,"a":9.6,"b":10.3,"c":9.9,"d":9.3,"f":9.6,"g":9.9},
{"e":462,"a":10.1,"b":9.6,"c":9.2,"d":9.8,"f":10.1,"g":10.4},
{"e":487,"a":9.6,"b":10.2,"c":9.7,"d":9.3,"f":9.7,"g":9.8},
{"e":512,"a":10.0,"b":9.6,"c":9.1,"d":9.7,"f":10.0,"g":10.2},
{"e":537,"a":9.4,"b":9.9,"c":9.3,"d":9.0,"f":9.8,"g":9.9},
{"e":562,"a":9.5,"b":9.4,"c":8.6,"d":9.2,"f":9.7,"g":10.0},
{"e":587,"a":9.0,"b":9.3,"c":8.9,"d":8.6,"f":9.9,"g":9.8}
],
"er": [
{"e":0,"a":1.56,"b":1.545,"c":1.555,"d":1.57,"f":1.575,"g":1.565},
{"e":25,"a":1.52,"b":1.555,"c":1.53,"d":1.535,"f":1.505,"g":1.54},
{"e":50,"a":1.495,"b":1.53,"c":1.505,"d":1.56,"f":1.52,"g":1.555},
{"e":75,"a":1.478,"b":1.55,"c":1.49,"d":1.54,"f":1.48,"g":1.53},
{"e":100,"a":1.488,"b":1.525,"c":1.475,"d":1.555,"f":1.495,"g":1.56},
{"e":125,"a":1.475,"b":1.545,"c":1.492,"d":1.535,"f":1.47,"g":1.54},
{"e":150,"a":1.485,"b":1.53,"c":1.478,"d":1.55,"f":1.488,"g":1.555},
{"e":175,"a":1.472,"b":1.548,"c":1.49,"d":1.538,"f":1.465,"g":1.545},
{"e":200,"a":1.483,"b":1.535,"c":1.47,"d":1.555,"f":1.485,"g":1.56},
{"e":225,"a":1.47,"b":1.55,"c":1.488,"d":1.542,"f":1.472,"g":1.55},
{"e":250,"a":1.48,"b":1.538,"c":1.462,"d":1.56,"f":1.49,"g":1.575},
{"e":275,"a":1.468,"b":1.552,"c":1.48,"d":1.545,"f":1.468,"g":1.555},
{"e":300,"a":1.475,"b":1.54,"c":1.47,"d":1.552,"f":1.485,"g":1.56},
{"e":325,"a":1.462,"b":1.548,"c":1.478,"d":1.54,"f":1.47,"g":1.55},
{"e":350,"a":1.47,"b":1.535,"c":1.46,"d":1.548,"f":1.482,"g":1.555},
{"e":375,"a":1.455,"b":1.53,"c":1.468,"d":1.535,"f":1.465,"g":1.545},
{"e":400,"a":1.46,"b":1.52,"c":1.452,"d":1.525,"f":1.475,"g":1.55},
{"e":425,"a":1.448,"b":1.51,"c":1.458,"d":1.51,"f":1.462,"g":1.54},
{"e":450,"a":1.452,"b":1.505,"c":1.44,"d":1.495,"f":1.472,"g":1.545},
{"e":475,"a":1.44,"b":1.5,"c":1.445,"d":1.48,"f":1.46,"g":1.535},
{"e":500,"a":1.438,"b":1.495,"c":1.425,"d":1.47,"f":1.47,"g":1.53},
{"e":525,"a":1.43,"b":1.488,"c":1.418,"d":1.455,"f":1.462,"g":1.535},
{"e":550,"a":1.425,"b":1.478,"c":1.405,"d":1.44,"f":1.475,"g":1.525},
{"e":575,"a":1.418,"b":1.47,"c":1.398,"d":1.425,"f":1.465,"g":1.528},
{"e":600,"a":1.408,"b":1.455,"c":1.38,"d":1.405,"f":1.46,"g":1.515},
{"e":625,"a":1.395,"b":1.44,"c":1.37,"d":1.39,"f":1.45,"g":1.51},
{"e":650,"a":1.38,"b":1.42,"c":1.35,"d":1.372,"f":1.448,"g":1.5},
{"e":675,"a":1.372,"b":1.405,"c":1.345,"d":1.36,"f":1.438,"g":1.49},
{"e":700,"a":1.36,"b":1.385,"c":1.332,"d":1.345,"f":1.43,"g":1.47},
{"e":725,"a":1.352,"b":1.37,"c":1.325,"d":1.338,"f":1.42,"g":1.455},
{"e":750,"a":1.345,"b":1.358,"c":1.318,"d":1.33,"f":1.408,"g":1.44},
{"e":775,"a":1.335,"b":1.35,"c":1.322,"d":1.328,"f":1.415,"g":1.428},
{"e":800,"a":1.33,"b":1.345,"c":1.312,"d":1.325,"f":1.4,"g":1.42},
{"e":825,"a":1.328,"b":1.34,"c":1.308,"d":1.33,"f":1.398,"g":1.412},
{"e":850,"a":1.325,"b":1.342,"c":1.32,"d":1.328,"f":1.392,"g":1.415},
{"e":875,"a":1.322,"b":1.336,"c":1.325,"d":1.335,"f":1.395,"g":1.405},
{"e":900,"a":1.32,"b":1.338,"c":1.33,"d":1.332,"f":1.385,"g":1.408},
{"e":925,"a":1.325,"b":1.335,"c":1.335,"d":1.34,"f":1.39,"g":1.398},
{"e":950,"a":1.318,"b":1.34,"c":1.34,"d":1.338,"f":1.378,"g":1.402},
{"e":975,"a":1.322,"b":1.338,"c":1.345,"d":1.345,"f":1.385,"g":1.395},
{"e":1000,"a":1.326,"b":1.342,"c":1.348,"d":1.342,"f":1.372,"g":1.398},
{"e":1025,"a":1.324,"b":1.34,"c":1.35,"d":1.348,"f":1.388,"g":1.392},
{"e":1050,"a":1.33,"b":1.345,"c":1.346,"d":1.352,"f":1.395,"g":1.4},
{"e":1075,"a":1.326,"b":1.342,"c":1.352,"d":1.348,"f":1.385,"g":1.396},
{"e":1100,"a":1.332,"b":1.348,"c":1.348,"d":1.355,"f":1.392,"g":1.402},
{"e":1125,"a":1.328,"b":1.345,"c":1.355,"d":1.35,"f":1.398,"g":1.398},
{"e":1150,"a":1.335,"b":1.35,"c":1.35,"d":1.358,"f":1.388,"g":1.405},
{"e":1175,"a":1.33,"b":1.352,"c":1.358,"d":1.355,"f":1.395,"g":1.4},
{"e":1200,"a":1.338,"b":1.348,"c":1.354,"d":1.36,"f":1.4,"g":1.408},
{"e":1225,"a":1.334,"b":1.355,"c":1.362,"d":1.356,"f":1.388,"g":1.4},
{"e":1250,"a":1.34,"b":1.352,"c":1.358,"d":1.365,"f":1.38,"g":1.395},
{"e":1275,"a":1.336,"b":1.358,"c":1.368,"d":1.362,"f":1.385,"g":1.398},
{"e":1300,"a":1.342,"b":1.355,"c":1.362,"d":1.37,"f":1.378,"g":1.392},
{"e":1325,"a":1.338,"b":1.36,"c":1.372,"d":1.366,"f":1.385,"g":1.396},
{"e":1350,"a":1.344,"b":1.356,"c":1.368,"d":1.375,"f":1.39,"g":1.4},
{"e":1375,"a":1.34,"b":1.362,"c":1.378,"d":1.37,"f":1.395,"g":1.405},
{"e":1400,"a":1.346,"b":1.358,"c":1.372,"d":1.38,"f":1.385,"g":1.395},
{"e":1425,"a":1.342,"b":1.364,"c":1.388,"d":1.375,"f":1.392,"g":1.4},
{"e":1450,"a":1.332,"b":1.36,"c":1.38,"d":1.383,"f":1.388,"g":1.392},
{"e":1475,"a":1.34,"b":1.365,"c":1.392,"d":1.378,"f":1.395,"g":1.398},
{"e":1500,"a":1.345,"b":1.361,"c":1.385,"d":1.386,"f":1.386,"g":1.393},
{"e":1525,"a":1.34,"b":1.366,"c":1.378,"d":1.38,"f":1.382,"g":1.388},
{"e":1550,"a":1.348,"b":1.362,"c":1.388,"d":1.388,"f":1.378,"g":1.395},
{"e":1575,"a":1.342,"b":1.367,"c":1.38,"d":1.382,"f":1.385,"g":1.39},
{"e":1600,"a":1.35,"b":1.363,"c":1.39,"d":1.39,"f":1.38,"g":1.396},
{"e":1625,"a":1.345,"b":1.368,"c":1.384,"d":1.385,"f":1.39,"g":1.392},
{"e":1650,"a":1.352,"b":1.364,"c":1.392,"d":1.392,"f":1.385,"g":1.398},
{"e":1675,"a":1.346,"b":1.369,"c":1.386,"d":1.386,"f":1.392,"g":1.394},
{"e":1700,"a":1.354,"b":1.365,"c":1.395,"d":1.394,"f":1.388,"g":1.4},
{"e":1725,"a":1.348,"b":1.37,"c":1.388,"d":1.389,"f":1.395,"g":1.396},
{"e":1750,"a":1.356,"b":1.366,"c":1.398,"d":1.396,"f":1.39,"g":1.402},
{"e":1775,"a":1.35,"b":1.371,"c":1.392,"d":1.391,"f":1.398,"g":1.398},
{"e":1800,"a":1.358,"b":1.367,"c":1.4,"d":1.398,"f":1.392,"g":1.404},
{"e":1825,"a":1.352,"b":1.372,"c":1.394,"d":1.393,"f":1.4,"g":1.4},
{"e":1850,"a":1.36,"b":1.368,"c":1.408,"d":1.4,"f":1.395,"g":1.41},
{"e":1875,"a":1.345,"b":1.373,"c":1.396,"d":1.395,"f":1.402,"g":1.404},
{"e":1900,"a":1.362,"b":1.369,"c":1.4,"d":1.402,"f":1.396,"g":1.398},
{"e":1925,"a":1.368,"b":1.374,"c":1.395,"d":1.396,"f":1.39,"g":1.394},
{"e":1950,"a":1.367,"b":1.37,"c":1.388,"d":1.392,"f":1.394,"g":1.4},
{"e":1975,"a":1.368,"b":1.375,"c":1.392,"d":1.398,"f":1.396,"g":1.396},
{"e":2000,"a":1.368,"b":1.382,"c":1.398,"d":1.395,"f":1.392,"g":1.4},
{"e":12,"a":1.535,"b":1.565,"c":1.56,"d":1.545,"f":1.55,"g":1.578},
{"e":37,"a":1.49,"b":1.54,"c":1.5,"d":1.565,"f":1.515,"g":1.545},
{"e":62,"a":1.505,"b":1.555,"c":1.48,"d":1.545,"f":1.49,"g":1.565},
{"e":87,"a":1.47,"b":1.535,"c":1.495,"d":1.56,"f":1.505,"g":1.54},
{"e":112,"a":1.49,"b":1.55,"c":1.468,"d":1.538,"f":1.475,"g":1.56},
{"e":137,"a":1.465,"b":1.535,"c":1.495,"d":1.558,"f":1.495,"g":1.548},
{"e":162,"a":1.49,"b":1.552,"c":1.465,"d":1.54,"f":1.462,"g":1.565},
{"e":187,"a":1.468,"b":1.532,"c":1.488,"d":1.56,"f":1.49,"g":1.545},
{"e":212,"a":1.488,"b":1.55,"c":1.46,"d":1.54,"f":1.47,"g":1.568},
{"e":237,"a":1.462,"b":1.532,"c":1.485,"d":1.565,"f":1.488,"g":1.55},
{"e":262,"a":1.485,"b":1.55,"c":1.455,"d":1.542,"f":1.465,"g":1.578},
{"e":287,"a":1.46,"b":1.535,"c":1.478,"d":1.56,"f":1.488,"g":1.548},
{"e":312,"a":1.48,"b":1.548,"c":1.455,"d":1.54,"f":1.465,"g":1.565},
{"e":337,"a":1.455,"b":1.53,"c":1.475,"d":1.555,"f":1.482,"g":1.545},
{"e":362,"a":1.472,"b":1.545,"c":1.45,"d":1.535,"f":1.46,"g":1.56},
{"e":387,"a":1.45,"b":1.525,"c":1.465,"d":1.545,"f":1.478,"g":1.54},
{"e":412,"a":1.462,"b":1.518,"c":1.445,"d":1.518,"f":1.462,"g":1.552},
{"e":437,"a":1.44,"b":1.505,"c":1.455,"d":1.505,"f":1.475,"g":1.535},
{"e":462,"a":1.45,"b":1.5,"c":1.435,"d":1.488,"f":1.458,"g":1.545},
{"e":487,"a":1.435,"b":1.498,"c":1.44,"d":1.475,"f":1.47,"g":1.528},
{"e":512,"a":1.44,"b":1.49,"c":1.42,"d":1.462,"f":1.458,"g":1.54},
{"e":537,"a":1.425,"b":1.485,"c":1.415,"d":1.448,"f":1.47,"g":1.525},
{"e":562,"a":1.428,"b":1.472,"c":1.4,"d":1.435,"f":1.46,"g":1.532},
{"e":587,"a":1.41,"b":1.465,"c":1.39,"d":1.415,"f":1.468,"g":1.52}
],
"ca": [
{"e":0,"a":0.7,"b":0.69,"c":0.745,"d":0.735,"f":0.672,"g":0.68},
{"e":25,"a":0.835,"b":0.82,"c":0.81,"d":0.83,"f":0.825,"g":0.815},
{"e":50,"a":0.872,"b":0.88,"c":0.862,"d":0.87,"f":0.868,"g":0.878},
{"e":75,"a":0.885,"b":0.895,"c":0.89,"d":0.88,"f":0.9,"g":0.888},
{"e":100,"a":0.905,"b":0.898,"c":0.895,"d":0.912,"f":0.892,"g":0.91},
{"e":125,"a":0.898,"b":0.915,"c":0.912,"d":0.902,"f":0.915,"g":0.9},
{"e":150,"a":0.915,"b":0.908,"c":0.905,"d":0.92,"f":0.905,"g":0.922},
{"e":175,"a":0.91,"b":0.925,"c":0.922,"d":0.912,"f":0.925,"g":0.915},
{"e":200,"a":0.925,"b":0.918,"c":0.915,"d":0.93,"f":0.912,"g":0.932},
{"e":225,"a":0.918,"b":0.932,"c":0.93,"d":0.922,"f":0.932,"g":0.925},
{"e":250,"a":0.93,"b":0.925,"c":0.922,"d":0.938,"f":0.922,"g":0.938},
{"e":275,"a":0.924,"b":0.938,"c":0.935,"d":0.928,"f":0.935,"g":0.932},
{"e":300,"a":0.932,"b":0.93,"c":0.926,"d":0.94,"f":0.925,"g":0.942},
{"e":325,"a":0.926,"b":0.94,"c":0.938,"d":0.932,"f":0.938,"g":0.935},
{"e":350,"a":0.933,"b":0.934,"c":0.928,"d":0.942,"f":0.928,"g":0.944},
{"e":375,"a":0.927,"b":0.942,"c":0.936,"d":0.933,"f":0.936,"g":0.938},
{"e":400,"a":0.934,"b":0.936,"c":0.925,"d":0.94,"f":0.93,"g":0.945},
{"e":425,"a":0.928,"b":0.942,"c":0.932,"d":0.934,"f":0.935,"g":0.94},
{"e":450,"a":0.934,"b":0.938,"c":0.926,"d":0.938,"f":0.929,"g":0.944},
{"e":475,"a":0.929,"b":0.943,"c":0.93,"d":0.932,"f":0.934,"g":0.941},
{"e":500,"a":0.933,"b":0.938,"c":0.924,"d":0.936,"f":0.93,"g":0.944},
{"e":525,"a":0.93,"b":0.942,"c":0.928,"d":0.93,"f":0.936,"g":0.94},
{"e":550,"a":0.932,"b":0.937,"c":0.922,"d":0.933,"f":0.932,"g":0.945},
{"e":575,"a":0.926,"b":0.94,"c":0.925,"d":0.927,"f":0.938,"g":0.942},
{"e":600,"a":0.928,"b":0.934,"c":0.918,"d":0.93,"f":0.934,"g":0.944},
{"e":625,"a":0.922,"b":0.936,"c":0.92,"d":0.924,"f":0.937,"g":0.941},
{"e":650,"a":0.925,"b":0.93,"c":0.914,"d":0.926,"f":0.933,"g":0.943},
{"e":675,"a":0.918,"b":0.932,"c":0.916,"d":0.918,"f":0.936,"g":0.939},
{"e":700,"a":0.92,"b":0.926,"c":0.91,"d":0.922,"f":0.932,"g":0.942},
{"e":725,"a":0.914,"b":0.927,"c":0.912,"d":0.914,"f":0.935,"g":0.938},
{"e":750,"a":0.916,"b":0.921,"c":0.906,"d":0.918,"f":0.931,"g":0.94},
{"e":775,"a":0.91,"b":0.922,"c":0.908,"d":0.91,"f":0.934,"g":0.937},
{"e":800,"a":0.912,"b":0.916,"c":0.898,"d":0.912,"f":0.93,"g":0.939},
{"e":825,"a":0.906,"b":0.917,"c":0.904,"d":0.905,"f":0.933,"g":0.936},
{"e":850,"a":0.908,"b":0.911,"c":0.9,"d":0.908,"f":0.929,"g":0.938},
{"e":875,"a":0.903,"b":0.912,"c":0.897,"d":0.902,"f":0.932,"g":0.935},
{"e":900,"a":0.905,"b":0.907,"c":0.899,"d":0.904,"f":0.928,"g":0.937},
{"e":925,"a":0.9,"b":0.908,"c":0.894,"d":0.898,"f":0.931,"g":0.934},
{"e":950,"a":0.902,"b":0.903,"c":0.896,"d":0.9,"f":0.927,"g":0.936},
{"e":975,"a":0.897,"b":0.904,"c":0.892,"d":0.895,"f":0.93,"g":0.933},
{"e":1000,"a":0.899,"b":0.9,"c":0.894,"d":0.897,"f":0.926,"g":0.935},
{"e":1025,"a":0.895,"b":0.901,"c":0.89,"d":0.893,"f":0.929,"g":0.932},
{"e":1050,"a":0.897,"b":0.897,"c":0.892,"d":0.895,"f":0.925,"g":0.934},
{"e":1075,"a":0.893,"b":0.898,"c":0.889,"d":0.891,"f":0.928,"g":0.931},
{"e":1100,"a":0.895,"b":0.895,"c":0.891,"d":0.894,"f":0.924,"g":0.933},
{"e":1125,"a":0.891,"b":0.896,"c":0.887,"d":0.89,"f":0.927,"g":0.93},
{"e":1150,"a":0.894,"b":0.893,"c":0.89,"d":0.893,"f":0.923,"g":0.932},
{"e":1175,"a":0.89,"b":0.894,"c":0.886,"d":0.889,"f":0.926,"g":0.929},
{"e":1200,"a":0.892,"b":0.891,"c":0.889,"d":0.892,"f":0.922,"g":0.934},
{"e":1225,"a":0.888,"b":0.892,"c":0.885,"d":0.888,"f":0.925,"g":0.93},
{"e":1250,"a":0.891,"b":0.889,"c":0.888,"d":0.891,"f":0.921,"g":0.931},
{"e":1275,"a":0.887,"b":0.891,"c":0.884,"d":0.887,"f":0.924,"g":0.927},
{"e":1300,"a":0.89,"b":0.888,"c":0.887,"d":0.89,"f":0.92,"g":0.929},
{"e":1325,"a":0.886,"b":0.89,"c":0.883,"d":0.886,"f":0.923,"g":0.926},
{"e":1350,"a":0.889,"b":0.887,"c":0.886,"d":0.889,"f":0.921,"g":0.928},
{"e":1375,"a":0.885,"b":0.889,"c":0.88,"d":0.885,"f":0.924,"g":0.925},
{"e":1400,"a":0.888,"b":0.886,"c":0.877,"d":0.888,"f":0.92,"g":0.927},
{"e":1425,"a":0.884,"b":0.888,"c":0.884,"d":0.882,"f":0.923,"g":0.924},
{"e":1450,"a":0.887,"b":0.885,"c":0.881,"d":0.886,"f":0.919,"g":0.926},
{"e":1475,"a":0.883,"b":0.887,"c":0.885,"d":0.881,"f":0.922,"g":0.923},
{"e":1500,"a":0.886,"b":0.884,"c":0.882,"d":0.885,"f":0.92,"g":0.925},
{"e":1525,"a":0.882,"b":0.886,"c":0.886,"d":0.88,"f":0.923,"g":0.922},
{"e":1550,"a":0.885,"b":0.883,"c":0.883,"d":0.884,"f":0.919,"g":0.924},
{"e":1575,"a":0.881,"b":0.885,"c":0.887,"d":0.881,"f":0.922,"g":0.921},
{"e":1600,"a":0.884,"b":0.882,"c":0.884,"d":0.885,"f":0.92,"g":0.923},
{"e":1625,"a":0.88,"b":0.884,"c":0.888,"d":0.882,"f":0.923,"g":0.92},
{"e":1650,"a":0.883,"b":0.881,"c":0.885,"d":0.886,"f":0.921,"g":0.922},
{"e":1675,"a":0.878,"b":0.883,"c":0.883,"d":0.883,"f":0.924,"g":0.925},
{"e":1700,"a":0.882,"b":0.88,"c":0.88,"d":0.887,"f":0.922,"g":0.923},
{"e":1725,"a":0.879,"b":0.882,"c":0.885,"d":0.884,"f":0.925,"g":0.926},
{"e":1750,"a":0.883,"b":0.88,"c":0.882,"d":0.888,"f":0.923,"g":0.924},
{"e":1775,"a":0.88,"b":0.883,"c":0.886,"d":0.885,"f":0.926,"g":0.927},
{"e":1800,"a":0.884,"b":0.881,"c":0.883,"d":0.889,"f":0.924,"g":0.925},
{"e":1825,"a":0.881,"b":0.884,"c":0.887,"d":0.886,"f":0.925,"g":0.928},
{"e":1850,"a":0.885,"b":0.882,"c":0.884,"d":0.89,"f":0.923,"g":0.925},
{"e":1875,"a":0.882,"b":0.885,"c":0.881,"d":0.887,"f":0.924,"g":0.926},
{"e":1900,"a":0.886,"b":0.883,"c":0.885,"d":0.889,"f":0.923,"g":0.924},
{"e":1925,"a":0.883,"b":0.886,"c":0.882,"d":0.886,"f":0.924,"g":0.925},
{"e":1950,"a":0.885,"b":0.884,"c":0.88,"d":0.884,"f":0.923,"g":0.923},
{"e":1975,"a":0.884,"b":0.887,"c":0.884,"d":0.886,"f":0.922,"g":0.923},
{"e":2000,"a":0.887,"b":0.89,"c":0.886,"d":0.886,"f":0.922,"g":0.922},
{"e":12,"a":0.78,"b":0.755,"c":0.74,"d":0.79,"f":0.76,"g":0.745},
{"e":37,"a":0.86,"b":0.84,"c":0.85,"d":0.865,"f":0.835,"g":0.855},
{"e":62,"a":0.87,"b":0.89,"c":0.885,"d":0.865,"f":0.89,"g":0.872},
{"e":87,"a":0.905,"b":0.885,"c":0.875,"d":0.905,"f":0.88,"g":0.905},
{"e":112,"a":0.89,"b":0.912,"c":0.915,"d":0.895,"f":0.91,"g":0.89},
{"e":137,"a":0.918,"b":0.9,"c":0.898,"d":0.92,"f":0.895,"g":0.922},
{"e":162,"a":0.905,"b":0.925,"c":0.928,"d":0.908,"f":0.925,"g":0.905},
{"e":187,"a":0.928,"b":0.912,"c":0.908,"d":0.93,"f":0.91,"g":0.93},
{"e":212,"a":0.915,"b":0.935,"c":0.935,"d":0.918,"f":0.938,"g":0.918},
{"e":237,"a":0.935,"b":0.92,"c":0.92,"d":0.94,"f":0.918,"g":0.94},
{"e":262,"a":0.922,"b":0.94,"c":0.942,"d":0.925,"f":0.94,"g":0.928},
{"e":287,"a":0.935,"b":0.928,"c":0.925,"d":0.942,"f":0.926,"g":0.944}
],
"aa": [
{"e":0,"a":0.13,"b":0.136,"c":0.14,"d":0.132,"f":0.125,"g":0.138},
{"e":25,"a":0.124,"b":0.129,"c":0.131,"d":0.138,"f":0.135,"g":0.127},
{"e":50,"a":0.133,"b":0.122,"c":0.139,"d":0.128,"f":0.128,"g":0.136},
{"e":75,"a":0.127,"b":0.135,"c":0.132,"d":0.141,"f":0.137,"g":0.13},
{"e":100,"a":0.136,"b":0.13,"c":0.142,"d":0.134,"f":0.131,"g":0.139},
{"e":125,"a":0.131,"b":0.139,"c":0.137,"d":0.143,"f":0.141,"g":0.134},
{"e":150,"a":0.139,"b":0.134,"c":0.145,"d":0.139,"f":0.136,"g":0.143},
{"e":175,"a":0.135,"b":0.142,"c":0.14,"d":0.147,"f":0.144,"g":0.138},
{"e":200,"a":0.142,"b":0.138,"c":0.148,"d":0.143,"f":0.14,"g":0.147},
{"e":225,"a":0.139,"b":0.145,"c":0.144,"d":0.15,"f":0.148,"g":0.142},
{"e":250,"a":0.145,"b":0.141,"c":0.151,"d":0.146,"f":0.144,"g":0.15},
{"e":275,"a":0.142,"b":0.148,"c":0.147,"d":0.153,"f":0.151,"g":0.146},
{"e":300,"a":0.147,"b":0.144,"c":0.154,"d":0.149,"f":0.147,"g":0.153},
{"e":325,"a":0.144,"b":0.15,"c":0.15,"d":0.156,"f":0.154,"g":0.149},
{"e":350,"a":0.15,"b":0.146,"c":0.157,"d":0.151,"f":0.167,"g":0.16},
{"e":375,"a":0.146,"b":0.152,"c":0.152,"d":0.158,"f":0.15,"g":0.152},
{"e":400,"a":0.152,"b":0.148,"c":0.158,"d":0.154,"f":0.156,"g":0.157},
{"e":425,"a":0.148,"b":0.154,"c":0.154,"d":0.16,"f":0.151,"g":0.153},
{"e":450,"a":0.154,"b":0.15,"c":0.16,"d":0.155,"f":0.157,"g":0.159},
{"e":475,"a":0.15,"b":0.156,"c":0.155,"d":0.161,"f":0.152,"g":0.155},
{"e":500,"a":0.156,"b":0.152,"c":0.161,"d":0.157,"f":0.158,"g":0.16},
{"e":525,"a":0.152,"b":0.158,"c":0.157,"d":0.162,"f":0.153,"g":0.156},
{"e":550,"a":0.158,"b":0.154,"c":0.162,"d":0.158,"f":0.159,"g":0.161},
{"e":575,"a":0.155,"b":0.16,"c":0.158,"d":0.163,"f":0.155,"g":0.157},
{"e":600,"a":0.16,"b":0.157,"c":0.164,"d":0.16,"f":0.16,"g":0.162},
{"e":625,"a":0.163,"b":0.162,"c":0.168,"d":0.166,"f":0.157,"g":0.159},
{"e":650,"a":0.166,"b":0.168,"c":0.172,"d":0.175,"f":0.162,"g":0.164},
{"e":675,"a":0.172,"b":0.17,"c":0.178,"d":0.176,"f":0.158,"g":0.16},
{"e":700,"a":0.176,"b":0.178,"c":0.183,"d":0.186,"f":0.153,"g":0.156},
{"e":725,"a":0.181,"b":0.179,"c":0.19,"d":0.193,"f":0.162,"g":0.165},
{"e":750,"a":0.184,"b":0.187,"c":0.226,"d":0.22,"f":0.168,"g":0.166},
{"e":775,"a":0.183,"b":0.182,"c":0.2,"d":0.205,"f":0.165,"g":0.172},
{"e":800,"a":0.19,"b":0.192,"c":0.206,"d":0.21,"f":0.171,"g":0.175},
{"e":825,"a":0.194,"b":0.19,"c":0.215,"d":0.212,"f":0.176,"g":0.173},
{"e":850,"a":0.199,"b":0.201,"c":0.239,"d":0.232,"f":0.18,"g":0.184},
{"e":875,"a":0.196,"b":0.198,"c":0.228,"d":0.236,"f":0.184,"g":0.181},
{"e":900,"a":0.205,"b":0.207,"c":0.237,"d":0.233,"f":0.189,"g":0.192},
{"e":925,"a":0.203,"b":0.2,"c":0.242,"d":0.245,"f":0.186,"g":0.19},
{"e":950,"a":0.212,"b":0.214,"c":0.249,"d":0.251,"f":0.194,"g":0.196},
{"e":975,"a":0.217,"b":0.215,"c":0.24,"d":0.238,"f":0.199,"g":0.201},
{"e":1000,"a":0.214,"b":0.218,"c":0.236,"d":0.242,"f":0.201,"g":0.198},
{"e":1025,"a":0.22,"b":0.217,"c":0.241,"d":0.24,"f":0.207,"g":0.21},
{"e":1050,"a":0.218,"b":0.222,"c":0.238,"d":0.244,"f":0.211,"g":0.208},
{"e":1075,"a":0.224,"b":0.221,"c":0.244,"d":0.241,"f":0.216,"g":0.218},
{"e":1100,"a":0.226,"b":0.224,"c":0.243,"d":0.246,"f":0.221,"g":0.219},
{"e":1125,"a":0.222,"b":0.227,"c":0.246,"d":0.243,"f":0.223,"g":0.225},
{"e":1150,"a":0.23,"b":0.226,"c":0.242,"d":0.247,"f":0.214,"g":0.21},
{"e":1175,"a":0.236,"b":0.232,"c":0.244,"d":0.246,"f":0.219,"g":0.221},
{"e":1200,"a":0.228,"b":0.234,"c":0.238,"d":0.24,"f":0.212,"g":0.215},
{"e":1225,"a":0.224,"b":0.229,"c":0.236,"d":0.238,"f":0.216,"g":0.214},
{"e":1250,"a":0.23,"b":0.226,"c":0.248,"d":0.244,"f":0.221,"g":0.224},
{"e":1275,"a":0.226,"b":0.231,"c":0.264,"d":0.26,"f":0.214,"g":0.217},
{"e":1300,"a":0.222,"b":0.224,"c":0.245,"d":0.25,"f":0.222,"g":0.219},
{"e":1325,"a":0.228,"b":0.23,"c":0.24,"d":0.238,"f":0.226,"g":0.223},
{"e":1350,"a":0.22,"b":0.224,"c":0.244,"d":0.247,"f":0.216,"g":0.219},
{"e":1375,"a":0.225,"b":0.227,"c":0.24,"d":0.242,"f":0.221,"g":0.218},
{"e":1400,"a":0.223,"b":0.22,"c":0.246,"d":0.243,"f":0.218,"g":0.221},
{"e":1425,"a":0.229,"b":0.226,"c":0.256,"d":0.258,"f":0.213,"g":0.216},
{"e":1450,"a":0.224,"b":0.228,"c":0.268,"d":0.265,"f":0.22,"g":0.218},
{"e":1475,"a":0.227,"b":0.225,"c":0.252,"d":0.255,"f":0.226,"g":0.223},
{"e":1500,"a":0.221,"b":0.223,"c":0.249,"d":0.25,"f":0.217,"g":0.221},
{"e":1525,"a":0.226,"b":0.229,"c":0.251,"d":0.248,"f":0.223,"g":0.219},
{"e":1550,"a":0.223,"b":0.226,"c":0.248,"d":0.251,"f":0.213,"g":0.216},
{"e":1575,"a":0.227,"b":0.23,"c":0.241,"d":0.244,"f":0.21,"g":0.213},
{"e":1600,"a":0.224,"b":0.228,"c":0.25,"d":0.248,"f":0.217,"g":0.215},
{"e":1625,"a":0.229,"b":0.226,"c":0.249,"d":0.251,"f":0.222,"g":0.219},
{"e":1650,"a":0.222,"b":0.231,"c":0.251,"d":0.249,"f":0.214,"g":0.218},
{"e":1675,"a":0.226,"b":0.227,"c":0.244,"d":0.246,"f":0.219,"g":0.216},
{"e":1700,"a":0.23,"b":0.232,"c":0.25,"d":0.247,"f":0.221,"g":0.224},
{"e":1725,"a":0.224,"b":0.226,"c":0.242,"d":0.244,"f":0.225,"g":0.222},
{"e":1750,"a":0.228,"b":0.23,"c":0.259,"d":0.256,"f":0.219,"g":0.221},
{"e":1775,"a":0.233,"b":0.235,"c":0.266,"d":0.262,"f":0.227,"g":0.229},
{"e":1800,"a":0.227,"b":0.231,"c":0.25,"d":0.253,"f":0.232,"g":0.228},
{"e":1825,"a":0.231,"b":0.233,"c":0.246,"d":0.249,"f":0.226,"g":0.23},
{"e":1850,"a":0.226,"b":0.229,"c":0.255,"d":0.251,"f":0.222,"g":0.225},
{"e":1875,"a":0.23,"b":0.232,"c":0.257,"d":0.259,"f":0.226,"g":0.223},
{"e":1900,"a":0.224,"b":0.227,"c":0.252,"d":0.255,"f":0.218,"g":0.22},
{"e":1925,"a":0.228,"b":0.226,"c":0.244,"d":0.248,"f":0.216,"g":0.218},
{"e":1950,"a":0.226,"b":0.23,"c":0.237,"d":0.24,"f":0.222,"g":0.219},
{"e":1975,"a":0.229,"b":0.233,"c":0.248,"d":0.245,"f":0.225,"g":0.221},
{"e":2000,"a":0.232,"b":0.236,"c":0.256,"d":0.254,"f":0.229,"g":0.224},
{"e":12,"a":0.138,"b":0.126,"c":0.128,"d":0.141,"f":0.139,"g":0.124},
{"e":37,"a":0.128,"b":0.137,"c":0.137,"d":0.127,"f":0.126,"g":0.135},
{"e":62,"a":0.139,"b":0.128,"c":0.13,"d":0.14,"f":0.138,"g":0.129},
{"e":87,"a":0.13,"b":0.14,"c":0.14,"d":0.132,"f":0.13,"g":0.14},
{"e":112,"a":0.142,"b":0.133,"c":0.135,"d":0.144,"f":0.143,"g":0.133},
{"e":137,"a":0.134,"b":0.143,"c":0.145,"d":0.136,"f":0.135,"g":0.144},
{"e":162,"a":0.144,"b":0.137,"c":0.14,"d":0.148,"f":0.146,"g":0.137},
{"e":187,"a":0.138,"b":0.146,"c":0.15,"d":0.141,"f":0.139,"g":0.148},
{"e":212,"a":0.147,"b":0.14,"c":0.143,"d":0.152,"f":0.15,"g":0.141},
{"e":237,"a":0.141,"b":0.149,"c":0.154,"d":0.145,"f":0.143,"g":0.152},
{"e":262,"a":0.15,"b":0.143,"c":0.147,"d":0.156,"f":0.153,"g":0.145},
{"e":287,"a":0.144,"b":0.151,"c":0.157,"d":0.149,"f":0.146,"g":0.155},
{"e":312,"a":0.152,"b":0.146,"c":0.15,"d":0.159,"f":0.157,"g":0.148},
{"e":337,"a":0.146,"b":0.153,"c":0.16,"d":0.152,"f":0.163,"g":0.168},
{"e":362,"a":0.154,"b":0.148,"c":0.152,"d":0.161,"f":0.155,"g":0.15},
{"e":387,"a":0.148,"b":0.155,"c":0.162,"d":0.154,"f":0.152,"g":0.158},
{"e":412,"a":0.156,"b":0.15,"c":0.155,"d":0.163,"f":0.159,"g":0.151},
{"e":437,"a":0.15,"b":0.157,"c":0.163,"d":0.156,"f":0.153,"g":0.16},
{"e":462,"a":0.157,"b":0.152,"c":0.156,"d":0.164,"f":0.161,"g":0.153},
{"e":487,"a":0.152,"b":0.159,"c":0.164,"d":0.157,"f":0.155,"g":0.162},
{"e":512,"a":0.159,"b":0.154,"c":0.158,"d":0.165,"f":0.162,"g":0.155},
{"e":537,"a":0.154,"b":0.161,"c":0.165,"d":0.158,"f":0.156,"g":0.163},
{"e":562,"a":0.161,"b":0.156,"c":0.159,"d":0.166,"f":0.163,"g":0.157},
{"e":587,"a":0.157,"b":0.163,"c":0.166,"d":0.16,"f":0.158,"g":0.164}
]
},
"concat": [
{"width": 241, "height": 186, "data": {"name": "acc"},
 "transform": [{"fold": ["a","b","c","d","f","g"], "as": ["k","v"]}, {"lookup": "k", "from": {"data": {"name": "names"}, "key": "k", "fields": ["s"]}}],
 "mark": {"type": "line", "interpolate": "monotone"},
 "encoding": {
  "x": {"field": "e", "type": "quantitative", "scale": {"domain": [-100, 2100], "nice": false, "zero": false}, "axis": {"values": [0,500,1000,1500,2000], "format": "d", "title": null}},
  "y": {"field": "v", "type": "quantitative", "scale": {"domain": [-0.05, 1.05], "nice": false, "zero": false}, "axis": {"values": [0,0.2,0.4,0.6,0.8,1], "format": ".1f", "title": "Model accuracy"}},
  "color": {"field": "s", "type": "nominal", "scale": {"domain": ["s0 train","s0 test","s1 train","s1 test","s2 train","s2 test"], "range": ["#1f77b4","#1f77b4","#ff7f0e","#ff7f0e","#2ca02c","#2ca02c"]},
    "legend": {"orient": "none", "legendX": 21, "legendY": 146, "columns": 3, "title": null, "symbolType": "stroke", "symbolSize": 300, "symbolStrokeWidth": 1.5, "labelFont": "DejaVu Sans", "labelFontSize": 9, "labelColor": "#000", "labelOffset": 6, "columnPadding": 12, "rowPadding": 0, "padding": 4, "strokeColor": "#cccccc", "fillColor": "rgba(255,255,255,0.8)", "cornerRadius": 3}},
  "strokeDash": {"field": "s", "type": "nominal", "scale": {"domain": ["s0 train","s0 test","s1 train","s1 test","s2 train","s2 test"], "range": [[1,0],[4.5,2],[1,0],[4.5,2],[1,0],[4.5,2]]},
    "legend": {"orient": "none", "legendX": 21, "legendY": 146, "columns": 3, "title": null, "symbolType": "stroke", "symbolSize": 300, "symbolStrokeWidth": 1.5, "labelFont": "DejaVu Sans", "labelFontSize": 9, "labelColor": "#000", "labelOffset": 6, "columnPadding": 12, "rowPadding": 0, "padding": 4, "strokeColor": "#cccccc", "fillColor": "rgba(255,255,255,0.8)", "cornerRadius": 3}}
 }},
{"width": 241, "height": 186, "data": {"name": "lp"},
 "transform": [{"fold": ["a","b","c","d","f","g"], "as": ["k","v"]}, {"lookup": "k", "from": {"data": {"name": "names"}, "key": "k", "fields": ["s"]}}],
 "mark": {"type": "line", "interpolate": "monotone"},
 "encoding": {
  "x": {"field": "e", "type": "quantitative", "scale": {"domain": [-100, 2100], "nice": false, "zero": false}, "axis": {"values": [0,500,1000,1500,2000], "format": "d", "title": null}},
  "y": {"field": "v", "type": "quantitative", "scale": {"domain": [-0.05, 1.05], "nice": false, "zero": false}, "axis": {"values": [0,0.2,0.4,0.6,0.8,1], "format": ".1f", "title": "LP accuracy"}},
  "color": {"field": "s", "type": "nominal", "scale": {"domain": ["s0 train","s0 test","s1 train","s1 test","s2 train","s2 test"], "range": ["#1f77b4","#1f77b4","#ff7f0e","#ff7f0e","#2ca02c","#2ca02c"]}, "legend": null},
  "strokeDash": {"field": "s", "type": "nominal", "scale": {"domain": ["s0 train","s0 test","s1 train","s1 test","s2 train","s2 test"], "range": [[1,0],[4.5,2],[1,0],[4.5,2],[1,0],[4.5,2]]}, "legend": null}
 }},
{"width": 241, "height": 186, "data": {"name": "ntk"},
 "transform": [{"fold": ["a","b","c","d","f","g"], "as": ["k","v"]}, {"lookup": "k", "from": {"data": {"name": "names"}, "key": "k", "fields": ["s"]}}],
 "mark": {"type": "line", "interpolate": "monotone"},
 "encoding": {
  "x": {"field": "e", "type": "quantitative", "scale": {"domain": [-100, 2100], "nice": false, "zero": false}, "axis": {"values": [0,500,1000,1500,2000], "format": "d", "title": null}},
  "y": {"field": "v", "type": "quantitative", "scale": {"domain": [0.0013, 0.0172], "nice": false, "zero": false}, "axis": {"values": [0.002,0.004,0.006,0.008,0.01,0.012,0.014,0.016], "format": ".3f", "title": "NTK alignment"}},
  "color": {"field": "s", "type": "nominal", "scale": {"domain": ["s0 train","s0 test","s1 train","s1 test","s2 train","s2 test"], "range": ["#1f77b4","#1f77b4","#ff7f0e","#ff7f0e","#2ca02c","#2ca02c"]}, "legend": null},
  "strokeDash": {"field": "s", "type": "nominal", "scale": {"domain": ["s0 train","s0 test","s1 train","s1 test","s2 train","s2 test"], "range": [[1,0],[4.5,2],[1,0],[4.5,2],[1,0],[4.5,2]]}, "legend": null}
 }},
{"width": 241, "height": 186, "data": {"name": "cd"},
 "transform": [{"fold": ["a","b","c","d","f","g"], "as": ["k","v"]}, {"lookup": "k", "from": {"data": {"name": "names"}, "key": "k", "fields": ["s"]}}],
 "mark": {"type": "line"},
 "encoding": {
  "x": {"field": "e", "type": "quantitative", "scale": {"domain": [-100, 2100], "nice": false, "zero": false}, "axis": {"values": [0,500,1000,1500,2000], "format": "d", "title": null}},
  "y": {"field": "v", "type": "quantitative", "scale": {"domain": [6.85, 17.64], "nice": false, "zero": false}, "axis": {"values": [8,10,12,14,16], "format": "d", "title": "Critical dimension"}},
  "color": {"field": "s", "type": "nominal", "scale": {"domain": ["s0 train","s0 test","s1 train","s1 test","s2 train","s2 test"], "range": ["#1f77b4","#1f77b4","#ff7f0e","#ff7f0e","#2ca02c","#2ca02c"]}, "legend": null},
  "strokeDash": {"field": "s", "type": "nominal", "scale": {"domain": ["s0 train","s0 test","s1 train","s1 test","s2 train","s2 test"], "range": [[1,0],[4.5,2],[1,0],[4.5,2],[1,0],[4.5,2]]}, "legend": null}
 }},
{"width": 241, "height": 186, "data": {"name": "ed"},
 "transform": [{"fold": ["a","b","c","d","f","g"], "as": ["k","v"]}, {"lookup": "k", "from": {"data": {"name": "names"}, "key": "k", "fields": ["s"]}}],
 "mark": {"type": "line"},
 "encoding": {
  "x": {"field": "e", "type": "quantitative", "scale": {"domain": [-100, 2100], "nice": false, "zero": false}, "axis": {"values": [0,500,1000,1500,2000], "format": "d", "title": "Epoch"}},
  "y": {"field": "v", "type": "quantitative", "scale": {"domain": [4.93, 12.1], "nice": false, "zero": false}, "axis": {"values": [5,6,7,8,9,10,11,12], "format": "d", "title": "Effective dimension"}},
  "color": {"field": "s", "type": "nominal", "scale": {"domain": ["s0 train","s0 test","s1 train","s1 test","s2 train","s2 test"], "range": ["#1f77b4","#1f77b4","#ff7f0e","#ff7f0e","#2ca02c","#2ca02c"]}, "legend": null},
  "strokeDash": {"field": "s", "type": "nominal", "scale": {"domain": ["s0 train","s0 test","s1 train","s1 test","s2 train","s2 test"], "range": [[1,0],[4.5,2],[1,0],[4.5,2],[1,0],[4.5,2]]}, "legend": null}
 }},
{"width": 241, "height": 186, "data": {"name": "er"},
 "transform": [{"fold": ["a","b","c","d","f","g"], "as": ["k","v"]}, {"lookup": "k", "from": {"data": {"name": "names"}, "key": "k", "fields": ["s"]}}],
 "mark": {"type": "line"},
 "encoding": {
  "x": {"field": "e", "type": "quantitative", "scale": {"domain": [-100, 2100], "nice": false, "zero": false}, "axis": {"values": [0,500,1000,1500,2000], "format": "d", "title": "Epoch"}},
  "y": {"field": "v", "type": "quantitative", "scale": {"domain": [1.29, 1.594], "nice": false, "zero": false}, "axis": {"values": [1.3,1.35,1.4,1.45,1.5,1.55], "format": ".2f", "title": "Effective radius"}},
  "color": {"field": "s", "type": "nominal", "scale": {"domain": ["s0 train","s0 test","s1 train","s1 test","s2 train","s2 test"], "range": ["#1f77b4","#1f77b4","#ff7f0e","#ff7f0e","#2ca02c","#2ca02c"]}, "legend": null},
  "strokeDash": {"field": "s", "type": "nominal", "scale": {"domain": ["s0 train","s0 test","s1 train","s1 test","s2 train","s2 test"], "range": [[1,0],[4.5,2],[1,0],[4.5,2],[1,0],[4.5,2]]}, "legend": null}
 }},
{"width": 241, "height": 186, "data": {"name": "ca"},
 "transform": [{"fold": ["a","b","c","d","f","g"], "as": ["k","v"]}, {"lookup": "k", "from": {"data": {"name": "names"}, "key": "k", "fields": ["s"]}}],
 "mark": {"type": "line"},
 "encoding": {
  "x": {"field": "e", "type": "quantitative", "scale": {"domain": [-100, 2100], "nice": false, "zero": false}, "axis": {"values": [0,500,1000,1500,2000], "format": "d", "title": "Epoch"}},
  "y": {"field": "v", "type": "quantitative", "scale": {"domain": [0.656, 0.961], "nice": false, "zero": false}, "axis": {"values": [0.7,0.75,0.8,0.85,0.9,0.95], "format": ".2f", "title": "Center alignment"}},
  "color": {"field": "s", "type": "nominal", "scale": {"domain": ["s0 train","s0 test","s1 train","s1 test","s2 train","s2 test"], "range": ["#1f77b4","#1f77b4","#ff7f0e","#ff7f0e","#2ca02c","#2ca02c"]}, "legend": null},
  "strokeDash": {"field": "s", "type": "nominal", "scale": {"domain": ["s0 train","s0 test","s1 train","s1 test","s2 train","s2 test"], "range": [[1,0],[4.5,2],[1,0],[4.5,2],[1,0],[4.5,2]]}, "legend": null}
 }},
{"width": 241, "height": 186, "data": {"name": "aa"},
 "transform": [{"fold": ["a","b","c","d","f","g"], "as": ["k","v"]}, {"lookup": "k", "from": {"data": {"name": "names"}, "key": "k", "fields": ["s"]}}],
 "mark": {"type": "line"},
 "encoding": {
  "x": {"field": "e", "type": "quantitative", "scale": {"domain": [-100, 2100], "nice": false, "zero": false}, "axis": {"values": [0,500,1000,1500,2000], "format": "d", "title": "Epoch"}},
  "y": {"field": "v", "type": "quantitative", "scale": {"domain": [0.112, 0.2765], "nice": false, "zero": false}, "axis": {"values": [0.12,0.14,0.16,0.18,0.2,0.22,0.24,0.26], "format": ".2f", "title": "Axis alignment"}},
  "color": {"field": "s", "type": "nominal", "scale": {"domain": ["s0 train","s0 test","s1 train","s1 test","s2 train","s2 test"], "range": ["#1f77b4","#1f77b4","#ff7f0e","#ff7f0e","#2ca02c","#2ca02c"]}, "legend": null},
  "strokeDash": {"field": "s", "type": "nominal", "scale": {"domain": ["s0 train","s0 test","s1 train","s1 test","s2 train","s2 test"], "range": [[1,0],[4.5,2],[1,0],[4.5,2],[1,0],[4.5,2]]}, "legend": null}
 }}
]
}
